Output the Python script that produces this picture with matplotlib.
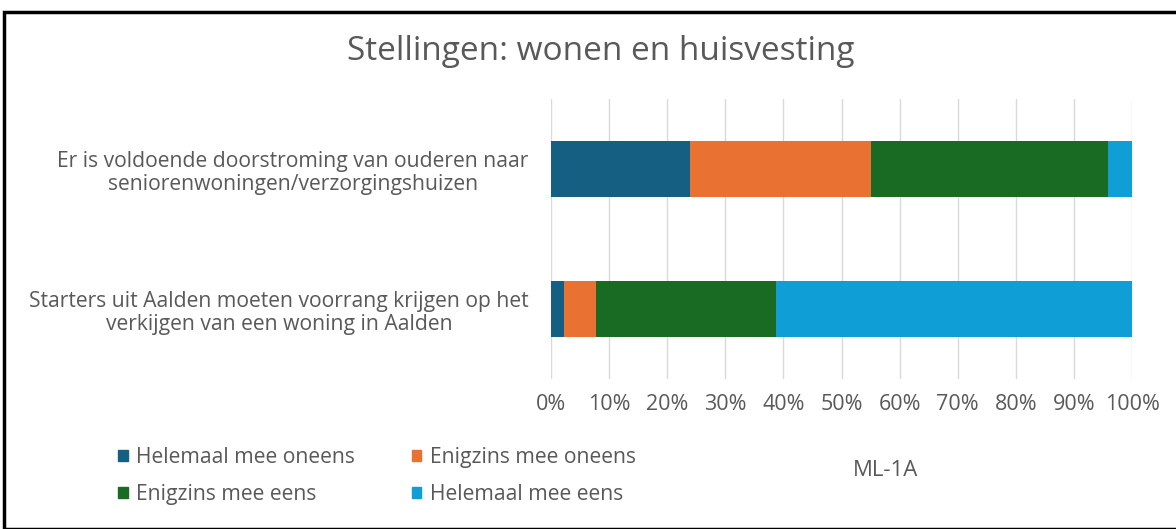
import numpy as np
import matplotlib.pyplot as plt
from matplotlib.patches import Rectangle, Patch
from matplotlib.ticker import PercentFormatter

plt.rcParams['font.family'] = ['Open Sans', 'DejaVu Sans']

statements = ['Er is voldoende doorstroming van ouderen naar\nseniorenwoningen/verzorgingshuizen',
              'Starters uit Aalden moeten voorrang krijgen op het\nverkijgen van een woning in Aalden']
answers = ['Helemaal mee oneens', 'Enigzins mee oneens', 'Enigzins mee eens', 'Helemaal mee eens']
helemaal_oneens = [23.9, 2.2]
enigzins_oneens = [31.2, 5.6]
enigzins_eens = [40.7, 30.9]
helemaal_eens = [4.2, 61.3]
colors = ['#156082', '#E97132', '#196B24', '#0F9ED5']

txt = '#595959'
fig = plt.figure(figsize=(11.76, 5.29), dpi=100)
ax = fig.add_axes([551/1176, 1-379/529, 581/1176, 280/529])

y = np.arange(len(statements))
left = np.zeros(len(statements))
for vals, c, lab in zip([helemaal_oneens, enigzins_oneens, enigzins_eens, helemaal_eens], colors, answers):
    ax.barh(y, vals, left=left, height=0.4, color=c, label=lab, zorder=3)
    left += np.array(vals)

ax.set_xlim(0, 100)
ax.set_ylim(1.5, -0.5)
ax.set_xticks(np.arange(0, 101, 10))
ax.xaxis.set_major_formatter(PercentFormatter(decimals=0))
ax.set_yticks(y)
ax.set_yticklabels(statements, fontsize=15.2, color=txt, multialignment='center',
                   linespacing=1.17)
ax.tick_params(axis='y', length=0, pad=16)
ax.tick_params(axis='x', length=0, labelsize=15.5, labelcolor=txt, pad=11)
ax.grid(axis='x', color='#d9d9d9', lw=1, zorder=0)
for s in ax.spines.values():
    s.set_visible(False)

fig.text(601/1176, 1-52/529, 'Stellingen: wonen en huisvesting', fontsize=24, color=txt,
         ha='center', va='center')
fig.text(886/1176, 1-470/529, 'ML-1A', fontsize=16, color=txt, ha='center', va='center')

order = [0, 2, 1, 3]
handles = [Patch(color=colors[i]) for i in order]
fig.legend(handles, [answers[i] for i in order], ncol=2, loc='upper left',
           bbox_to_anchor=(99/1176, 1-428/529), frameon=False, fontsize=15.2,
           handlelength=0.45, handleheight=0.45, handletextpad=0.4, columnspacing=2.7,
           labelspacing=0.75, labelcolor=txt)

fig.add_artist(Rectangle((4/1176, 0), 1.2, 1-12/529, transform=fig.transFigure,
                         fill=False, ec='black', lw=2.5))

fig.savefig('out.png', dpi=100)
